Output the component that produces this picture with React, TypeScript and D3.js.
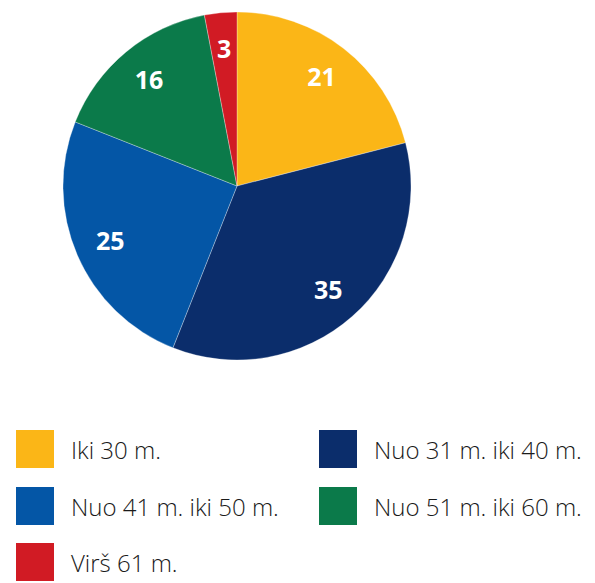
import React from "react";
import * as d3 from "d3";

const categories = ["Iki 30 m.", "Nuo 31 m. iki 40 m.", "Nuo 41 m. iki 50 m.", "Nuo 51 m. iki 60 m.", "Virš 61 m."];
const values = [21, 35, 25, 16, 3];
const colors = ["#FBB617", "#0B2D6B", "#0456A6", "#0B7A4A", "#D11B24"];

const legendOrder = [
  { idx: 0, col: 0, row: 0 },
  { idx: 1, col: 1, row: 0 },
  { idx: 2, col: 0, row: 1 },
  { idx: 3, col: 1, row: 1 },
  { idx: 4, col: 0, row: 2 },
];

export default function App() {
  const W = 595, H = 583;
  const cx = 237, cy = 186, R = 174;
  const pie = d3.pie<number>().sort(null).value((d) => d)(values);
  const arc = d3.arc<d3.PieArcDatum<number>>().innerRadius(0).outerRadius(R);
  const labelArc = d3.arc<d3.PieArcDatum<number>>().innerRadius(138).outerRadius(138);
  const colX = [16, 319];
  const rowY = [430, 487, 543];
  const sq = 38;
  return (
    <svg width={W} height={H} style={{ position: "absolute", left: 0, top: 0, background: "#fff" }}>
      <g transform={`translate(${cx},${cy})`}>
        {pie.map((p, i) => (
          <path key={i} d={arc(p) || ""} fill={colors[i]} stroke="#fff" strokeWidth={0.3} />
        ))}
        {pie.map((p, i) => {
          const [x, y] = labelArc.centroid(p);
          return (
            <text key={i} x={x} y={y} dy="0.36em" textAnchor="middle" fill="#fff"
              fontFamily="'Open Sans', sans-serif" fontWeight={700} fontSize={25}>
              {values[i]}
            </text>
          );
        })}
      </g>
      {legendOrder.map((l) => (
        <g key={l.idx}>
          <rect x={colX[l.col]} y={rowY[l.row]} width={sq} height={sq} fill={colors[l.idx]} />
          <text x={colX[l.col] + 55} y={rowY[l.row] + sq / 2 + 1} dy="0.36em"
            fontFamily="'Open Sans', sans-serif" fontWeight={300} fontSize={24} fill="#1a1a1a">
            {categories[l.idx]}
          </text>
        </g>
      ))}
    </svg>
  );
}
